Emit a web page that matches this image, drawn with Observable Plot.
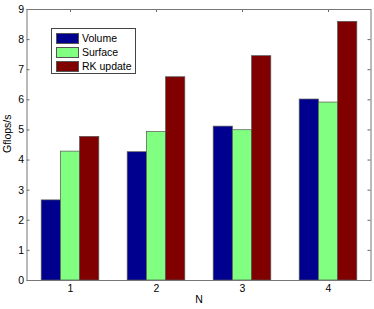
<!DOCTYPE html>
<html><head><meta charset="utf-8">
<script src="https://cdn.jsdelivr.net/npm/d3@7"></script>
<script src="https://cdn.jsdelivr.net/npm/@observablehq/plot@0.6"></script>
<style>
body{margin:0;background:#fff;font-family:"Liberation Sans",Arial,sans-serif}
#wrap{position:relative;width:374px;height:309px}
#legend{position:absolute;left:51px;top:28px;width:85px;height:46px;box-sizing:border-box;border:1px solid #444;background:#fff;font-size:10.5px;color:#000}
.row{position:absolute;left:4px;height:12px;display:flex;align-items:center}
.sw{width:23px;height:11px;box-sizing:border-box;border:0.7px solid #555;margin-right:3px}
</style></head>
<body><div id="wrap"></div>
<script>
const categories = [1, 2, 3, 4];
const series = ["Volume", "Surface", "RK update"];
const volume = [2.66, 4.26, 5.11, 6.01];
const surface = [4.28, 4.93, 4.99, 5.91];
const rkUpdate = [4.77, 6.75, 7.45, 8.59];
const yTicks = [0, 1, 2, 3, 4, 5, 6, 7, 8, 9];
const colors = ["#00008f", "#80ff80", "#800000"];
const yLabel = "Gflops/s";
const xLabel = "N";

const W = 374, H = 309, mL = 26.5, mR = 3.5, mT = 9, mB = 29;
const plotW = W - mL - mR, plotH = H - mT - mB;
const bw = plotW / categories.length;
const groupW = bw * 0.67;
const barW = groupW / series.length;
const off = (bw - groupW) / 2;

const valuesBySeries = [volume, surface, rkUpdate];
const rows = series.flatMap((s, i) => categories.map((n, j) => ({N: n, series: s, value: valuesBySeries[i][j]})));

const chart = Plot.plot({
  width: W, height: H,
  marginLeft: mL, marginRight: mR, marginTop: mT, marginBottom: mB,
  style: {fontFamily: '"Liberation Sans", Arial, sans-serif', fontSize: "10.5px", background: "#fff", color: "#000"},
  x: {type: "band", domain: categories, padding: 0},
  y: {domain: [0, 9]},
  color: {domain: series, range: colors},
  marks: [
    ...series.map((s, i) => Plot.barY(rows.filter(r => r.series === s), {
      x: "N", y: "value", fill: "series", stroke: "#555", strokeWidth: 0.7,
      insetLeft: off + i * barW, insetRight: bw - off - (i + 1) * barW
    })),
    Plot.tickY(yTicks, {y: d => d, stroke: "#666", insetRight: plotW - 3}),
    Plot.tickY(yTicks, {y: d => d, stroke: "#666", insetLeft: plotW - 3}),
    Plot.tickX(categories, {x: d => d, stroke: "#666", insetBottom: plotH - 3}),
    Plot.frame({stroke: "#777"}),
    Plot.axisY(yTicks, {anchor: "left", tickSize: 0, tickPadding: 3, label: null}),
    Plot.axisX(categories, {anchor: "bottom", tickSize: 0, tickPadding: 4, label: null}),
    Plot.text([yLabel], {text: d => d, frameAnchor: "left", rotate: -90, dx: -19, dy: 8, fontSize: 10.5}),
    Plot.text([xLabel], {text: d => d, frameAnchor: "bottom", dy: 22.5, fontSize: 10.5})
  ]
});
const wrap = document.getElementById("wrap");
wrap.appendChild(chart);

const legend = document.createElement("div");
legend.id = "legend";
series.forEach((s, i) => {
  const row = document.createElement("div");
  row.className = "row";
  row.style.top = (3 + i * 14) + "px";
  const sw = document.createElement("div");
  sw.className = "sw";
  sw.style.background = colors[i];
  const t = document.createElement("span");
  t.textContent = s;
  row.appendChild(sw); row.appendChild(t);
  legend.appendChild(row);
});
wrap.appendChild(legend);
</script>
</body></html>
